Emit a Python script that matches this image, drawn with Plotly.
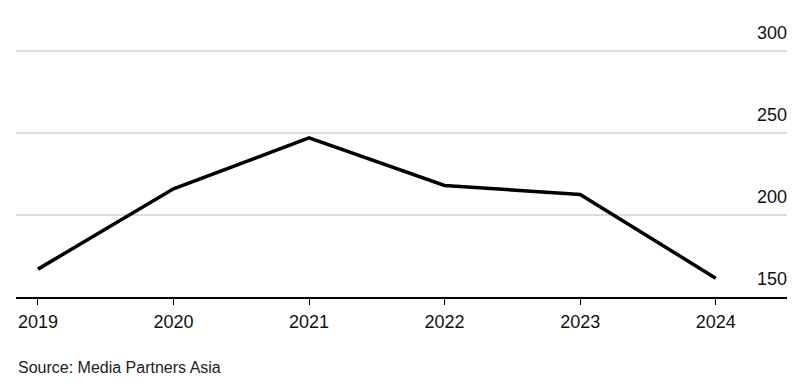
import plotly.graph_objects as go

years = [2019, 2020, 2021, 2022, 2023, 2024]
values = [167, 216, 247, 218, 212.5, 161.5]
y_ticks = [150, 200, 250, 300]
y_tick_labels = ["150", "200", "250", "300"]
source_text = "Source: Media Partners Asia"

FONT = "Arial, 'Liberation Sans', Helvetica, sans-serif"

# page has an 8px body margin; compensate
W, H = 797, 378
ML, MR, MT, MB = 8, 18, 4, 89
plot_h = H - MT - MB
y_top = 150 + plot_h / 82.0 * 50

fig = go.Figure()
fig.add_trace(go.Scatter(
    x=years, y=values, mode="lines",
    line=dict(color="#000000", width=3.5),
    hoverinfo="skip", showlegend=False,
))

fig.update_layout(
    width=W, height=H,
    margin=dict(l=ML, r=MR, t=MT, b=MB, autoexpand=False),
    paper_bgcolor="white", plot_bgcolor="white",
    font=dict(family=FONT, color="#111111", size=18),
    xaxis=dict(
        range=[2018.838, 2024.526],
        tickvals=years, ticktext=[str(y) for y in years],
        showgrid=False, zeroline=False,
        showline=True, linecolor="#000000", linewidth=1.5,
        ticks="outside", ticklen=6, tickcolor="#000000", tickwidth=1,
        ticklabelstandoff=2,
        tickfont=dict(size=18, color="#111111"),
        fixedrange=True,
    ),
    yaxis=dict(
        range=[150, y_top], side="right",
        tickvals=y_ticks, ticktext=y_tick_labels,
        ticklabelposition="inside top",
        ticklabelshift=-6, ticklabelstandoff=-3,
        showgrid=True, gridcolor="#dddddd", gridwidth=1.5,
        zeroline=False, showline=False, ticks="",
        tickfont=dict(size=18, color="#111111"),
        fixedrange=True,
    ),
    annotations=[dict(
        text=source_text, xref="paper", yref="paper",
        x=0.0, y=-71 / plot_h, xanchor="left", yanchor="middle",
        showarrow=False, font=dict(size=16, color="#222222", family=FONT),
    )],
)

fig.write_html("out.html")
